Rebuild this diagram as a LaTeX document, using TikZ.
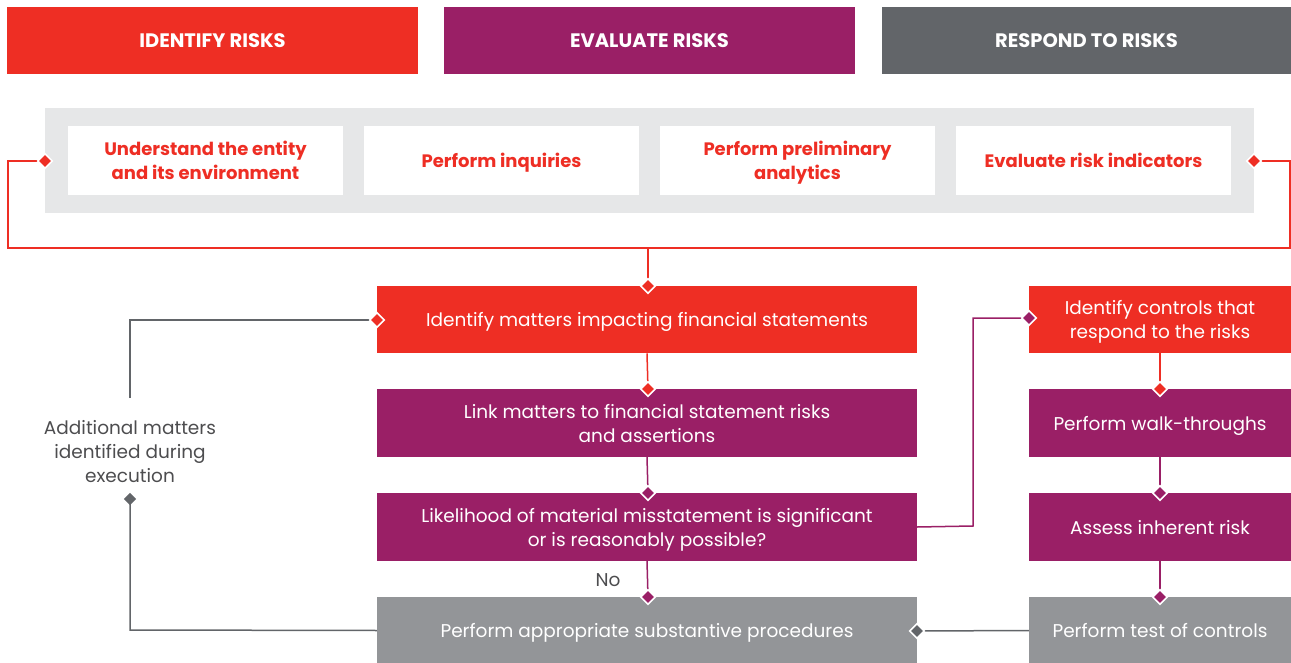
\documentclass[tikz,border=0pt]{standalone}
\usepackage{fontspec}
\setmainfont{Poppins}
\usetikzlibrary{shapes.geometric,backgrounds}
\definecolor{cred}{HTML}{EE2E24}
\definecolor{cpur}{HTML}{9A1F66}
\definecolor{cdgray}{HTML}{626569}
\definecolor{clgray}{HTML}{939598}
\definecolor{cpanel}{HTML}{E6E7E8}
\definecolor{ctext}{HTML}{4D4D4F}
\begin{document}
\begin{tikzpicture}[x=1pt,y=-1pt,
  hdr/.style={rectangle, inner sep=0pt, minimum width=411pt, minimum height=67pt, text=white, text depth=0pt, font=\bfseries\fontsize{19.5}{22}\selectfont},
  wbox/.style={rectangle, fill=white, inner sep=0pt, minimum width=275pt, minimum height=69pt, text=cred, align=center, text depth=0pt, font=\bfseries\fontsize{18}{24}\selectfont},
  fbox/.style={rectangle, inner sep=0pt, minimum height=67.5pt, text=white, align=center, text depth=0pt, font=\fontsize{18.5}{24}\selectfont},
  wide/.style={fbox, minimum width=540pt},
  narrow/.style={fbox, minimum width=262pt},
  dia/.style={diamond, inner sep=0pt, minimum size=15pt, draw=white, line width=1.6pt},
  conn/.style={line width=1.5pt}]
\useasboundingbox (0,0) rectangle (1291,663);
% headers
\node[hdr, fill=cred] (h1) at (212.5,40.5) {IDENTIFY RISKS};
\node[hdr, fill=cpur] (h2) at (649.5,40.5) {EVALUATE RISKS};
\node[hdr, fill=cdgray, minimum width=409pt] (h3) at (1086.5,40.5) {RESPOND TO RISKS};
% panel
\node[rectangle, fill=cpanel, inner sep=0pt, minimum width=1209pt, minimum height=105pt] (panel) at (649.5,160.5) {};
\node[wbox] (w1) at (205.5,160.5) {Understand the entity\\and its environment};
\node[wbox] (w2) at (501.5,160.5) {Perform inquiries};
\node[wbox] (w3) at (797.5,160.5) {Perform preliminary\\analytics};
\node[wbox] (w4) at (1093.5,160.5) {Evaluate risk indicators};
% left column
\node[wide, fill=cred] (im) at (647,319.5) {Identify matters impacting financial statements};
\node[wide, fill=cpur] (lm) at (647,423) {Link matters to financial statement risks\\and assertions};
\node[wide, fill=cpur] (lk) at (647,527) {Likelihood of material misstatement is significant\\or is reasonably possible?};
\node[wide, fill=clgray] (sp) at (647,630.5) {Perform appropriate substantive procedures};
% right column
\node[narrow, fill=cred] (ic) at (1160,319.5) {Identify controls that\\respond to the risks};
\node[narrow, fill=cpur] (wt) at (1160,423) {Perform walk-throughs};
\node[narrow, fill=cpur] (ai) at (1160,527) {Assess inherent risk};
\node[narrow, fill=clgray] (tc) at (1160,630.5) {Perform test of controls};
% side label
\node[text=ctext, align=center, text depth=0pt, font=\fontsize{18.5}{24}\selectfont] (am) at (130,451) {Additional matters\\identified during\\execution};
\node[text=ctext, text depth=0pt, font=\fontsize{18.5}{22}\selectfont] (no) at (608,580) {No};
% diamonds
\node[dia, fill=cred] (dl) at (45,161) {};
\node[dia, fill=cred] (dr) at (1254,161) {};
\node[dia, fill=cred] (dim) at (648,286) {};
\node[dia, fill=cred] (dlm) at (648,389) {};
\node[dia, fill=cpur] (dlk) at (648,493) {};
\node[dia, fill=cpur] (dsp) at (648,597) {};
\node[dia, fill=cred] (dimw) at (377,320) {};
\node[dia, fill=cpur] (dic) at (1029,318) {};
\node[dia, fill=cred] (dwt) at (1160,389) {};
\node[dia, fill=cpur] (dai) at (1160,493) {};
\node[dia, fill=cpur] (dtc) at (1160,597) {};
\node[dia, fill=cdgray] (dspe) at (917,631) {};
\node[dia, fill=cdgray, draw=none, minimum size=13pt] (dam) at (130,499) {};
% connectors
\coordinate (c1) at (8,161);
\coordinate (c2) at (8,248);
\coordinate (c3) at (1290,248);
\coordinate (c4) at (1290,161);
\coordinate (c5) at (648,248);
\coordinate (c6) at (130,320);
\coordinate (c7) at (130,630);
\coordinate (c8) at (973,526);
\coordinate (c9) at (973,318);
\coordinate (c10) at (130,398);
\begin{scope}[on background layer]
\draw[conn, cred] (dl.center) -- (c1) -- (c2) -- (c3) -- (c4) -- (dr.center);
\draw[conn, cred] (c5) -- (dim.center);
\draw[conn, cred] (im.south) -- (dlm.center);
\draw[conn, cpur] (lm.south) -- (dlk.center);
\draw[conn, cpur] (lk.south) -- (dsp.center);
\draw[conn, cred] (ic.south) -- (dwt.center);
\draw[conn, cpur] (wt.south) -- (dai.center);
\draw[conn, cpur] (ai.south) -- (dtc.center);
\draw[conn, cpur] (lk.east) -- (c8) -- (c9) -- (dic.center);
\draw[conn, cdgray] (tc.west) -- (dspe.center);
\draw[conn, cdgray] (c10) -- (c6) -- (dimw.center);
\draw[conn, cdgray] (sp.west) -- (c7) -- (dam.center);
\end{scope}
\end{tikzpicture}
\end{document}
